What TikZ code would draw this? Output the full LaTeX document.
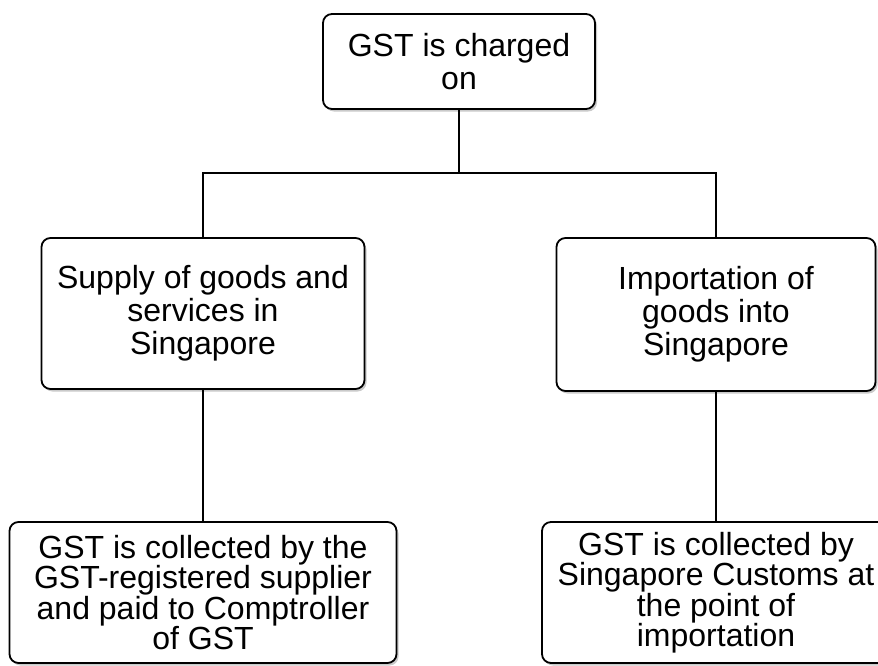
\documentclass[tikz,border=0pt]{standalone}
\usepackage{fontspec}
\setmainfont{Liberation Sans}
\usetikzlibrary{shadows}

\tikzset{
  gstbox/.style={draw, line width=1.8pt, rounded corners=9pt, fill=white,
    align=center, inner sep=0pt,
    drop shadow={shadow xshift=2pt, shadow yshift=-2.5pt, opacity=0.35, fill=black!60},
    font=\fontsize{32}{33}\selectfont},
  lowbox/.style={gstbox, font=\fontsize{32}{30.5}\selectfont},
  link/.style={line width=2pt}
}

\begin{document}
\begin{tikzpicture}[x=1pt, y=-1pt]

\path[use as bounding box] (0,0) rectangle (878,665);
\clip (0,0) rectangle (878,665);

\node[gstbox, minimum width=272pt, minimum height=95pt] (charged) at (459 , 61.5) {GST is charged\\on};

\node[gstbox, minimum width=323pt, minimum height=151pt] (supply) at (203 , 313.5) {Supply of goods and\\services in\\Singapore};

\node[gstbox, minimum width=319pt, minimum height=153pt] (import) at (716 , 314.5) {Importation of\\goods into\\Singapore};

\node[lowbox, minimum width=387pt, minimum height=141pt] (supplier) at (203 , 592.5) {GST is collected by the\\GST-registered supplier\\and paid to Comptroller\\of GST};

\node[lowbox, minimum width=348pt, minimum height=141pt] (customs) at (716 , 592.5) {GST is collected by\\Singapore Customs at\\the point of\\importation};


\coordinate (split) at (459 , 173);

\draw[link] (charged.south) -- (charged.south |- split);

\draw[link] (supply.north) -- (supply.north |- split) -| (import.north);

\draw[link] (supply.south) -- (supplier.north);

\draw[link] (import.south) -- (customs.north);

\end{tikzpicture}
\end{document}
